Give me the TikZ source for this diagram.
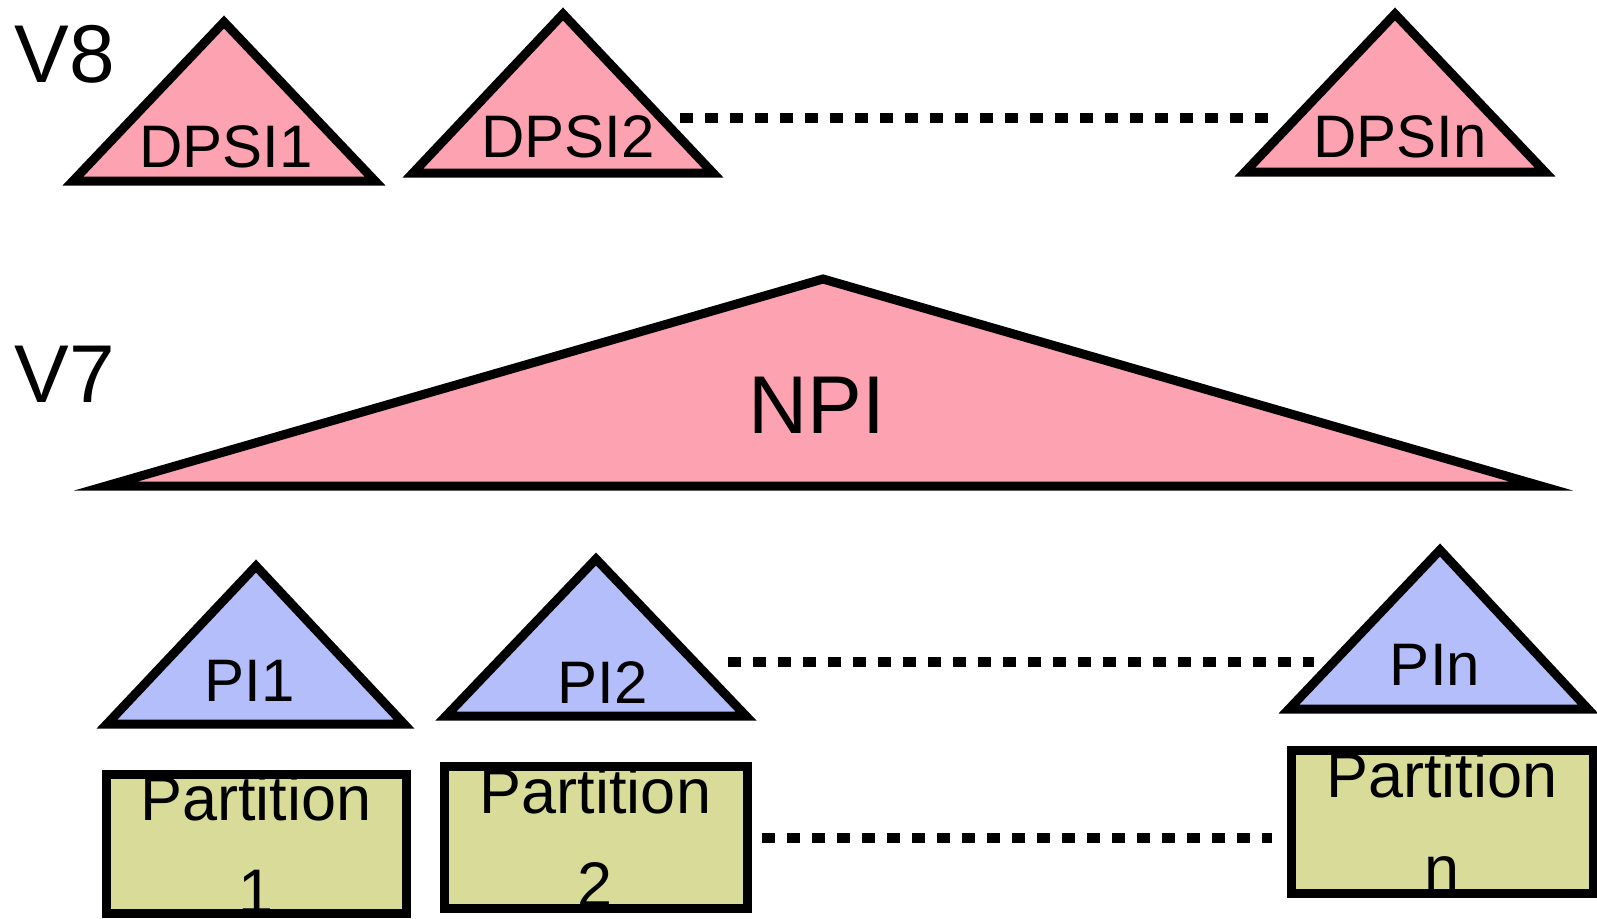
\documentclass[tikz,border=0pt]{standalone}
\usepackage{fontspec}
\setmainfont{Liberation Sans}
\usepackage{tikz}

\definecolor{idxpink}{RGB}{252,162,176}
\definecolor{idxblue}{RGB}{180,190,250}
\definecolor{partgreen}{RGB}{217,220,153}

\begin{document}
\begin{tikzpicture}[x=0.5pt,y=-0.5pt,line width=4.5pt,
    tri/.style={draw,fill=#1,line join=miter},
    lbl/.style={anchor=base,inner sep=0pt,font=\fontsize{30}{36}\selectfont},
    big/.style={inner sep=0pt,font=\fontsize{41}{48}\selectfont},
    part/.style={draw,fill=partgreen,rectangle,inner sep=0pt,align=center,
                 font=\fontsize{31.5}{46.5}\selectfont},
    dots/.style={line width=5pt,dash pattern=on 6.25pt off 6.25pt}]

\useasboundingbox (0,0) rectangle (1597,918);

% V8 level
\draw[tri=idxpink] (73,181) -- (224,22) -- (375,181) -- cycle;
\draw[tri=idxpink] (413,173) -- (563,14) -- (713,173) -- cycle;
\draw[tri=idxpink] (1245,172) -- (1395,14) -- (1545,172) -- cycle;
\node[big,anchor=base west] (V8) at (10,82) {V8};
\node[lbl] (DPSI1) at (226,167) {DPSI1};
\node[lbl] (DPSI2) at (568,157) {DPSI2};
\node[lbl] (DPSIn) at (1400,157) {DPSIn};

% V7 level
\draw[tri=idxpink] (106,486) -- (823,279) -- (1541,486) -- cycle;
\node[big,anchor=base west] (V7) at (10,402) {V7};
\node[big,anchor=base] (NPI) at (817,433) {NPI};

\draw[tri=idxblue] (107,724) -- (256,566) -- (404,724) -- cycle;
\draw[tri=idxblue] (446,716) -- (596,559) -- (746,716) -- cycle;
\draw[tri=idxblue] (1289,709) -- (1440,550) -- (1588,709) -- cycle;
\node[lbl] (PI1) at (250,701) {PI1};
\node[lbl] (PI2) at (603,703) {PI2};
\node[lbl] (PIn) at (1435,685) {PIn};

\node[part,minimum width=150pt,minimum height=69pt] (Part1) at (256,844) {Partition\\1};
\node[part,minimum width=151.5pt,minimum height=71pt] (Part2) at (595.5,837) {Partition\\2};
\node[part,minimum width=151pt,minimum height=71.5pt] (Partn) at (1442,821.5) {Partition\\n};

% gaps
\coordinate (d2) at (680,118);
\coordinate (dn) at (1268,118);
\coordinate (p2) at (728,662);
\coordinate (pn) at (1314,662);
\coordinate (q2) at (762,838);
\coordinate (qn) at (1272,838);
\path[dots]
    (d2) edge (dn)
    (p2) edge (pn)
    (q2) edge (qn);
\end{tikzpicture}
\end{document}
